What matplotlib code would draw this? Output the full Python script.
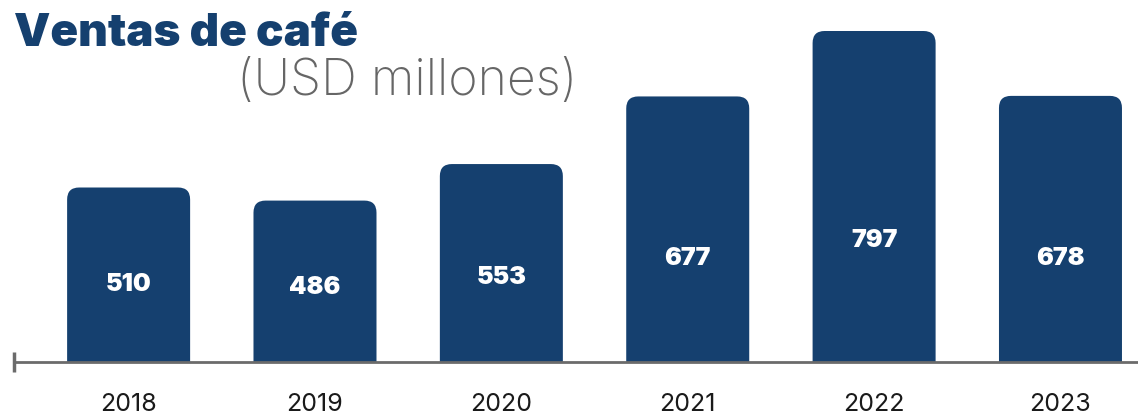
import matplotlib.pyplot as plt
from matplotlib.patches import FancyBboxPatch

# data
years = ["2018", "2019", "2020", "2021", "2022", "2023"]
ventas = [510, 486, 553, 677, 797, 678]

BAR_COLOR = "#15406f"
AXIS_COLOR = "#6b6b6b"
FONT = "Inter"

W, H = 1138, 419
fig = plt.figure(figsize=(W / 100, H / 100), dpi=100)

# axes placed in pixel terms of the reference
ax_left, ax_right, ax_bottom, ax_top = 14, 1138, 362, 31
ax = fig.add_axes([ax_left / W, 1 - ax_bottom / H,
                   (ax_right - ax_left) / W, (ax_bottom - ax_top) / H])

y_min = 190
ax.set_xlim(-0.615, len(years) - 0.584)
ax.set_ylim(y_min, max(ventas))

# scale factors so the top corners come out round in pixels
bbox = ax.get_window_extent()
px_per_x = bbox.width / (ax.get_xlim()[1] - ax.get_xlim()[0])
px_per_y = bbox.height / (ax.get_ylim()[1] - ax.get_ylim()[0])
radius_px = 12
bar_w = 0.66

for i, v in enumerate(ventas):
    y0 = y_min - 60  # start below the axis, bottom corners get clipped
    patch = FancyBboxPatch(
        (i - bar_w / 2, y0), bar_w, v - y0,
        boxstyle=f"round,pad=0,rounding_size={radius_px / px_per_x}",
        mutation_aspect=px_per_x / px_per_y,
        facecolor=BAR_COLOR, edgecolor="none", clip_on=True,
    )
    ax.add_patch(patch)
    ax.text(i, y_min + 0.28 * v, str(v), ha="center", va="center",
            color="white", fontsize=18, fontweight="black", family=FONT)

for s in ["top", "right", "left"]:
    ax.spines[s].set_visible(False)
ax.spines["bottom"].set_color(AXIS_COLOR)
ax.spines["bottom"].set_linewidth(2)
ax.set_xticks(range(len(years)))
ax.set_xticklabels(years, fontsize=18, family=FONT, color="#1a1a1a")
ax.tick_params(axis="x", which="major", length=0, pad=22)
# single vertical tick at the left end of the axis line
ax.set_xticks([ax.get_xlim()[0]], minor=True)
ax.tick_params(axis="x", which="minor", direction="inout", length=14,
               width=2.5, color=AXIS_COLOR, labelbottom=False)
ax.set_yticks([])

fig.text(14 / W, 1 - 46 / H, "Ventas de café", ha="left", va="baseline",
         fontsize=33, fontweight="black", color="#15406f", family=FONT)
fig.text(577 / W, 1 - 95 / H, "(USD millones)", ha="right", va="baseline",
         fontsize=36, fontweight="light", color="#666666", family=FONT)

fig.savefig("out.png", dpi=100)
